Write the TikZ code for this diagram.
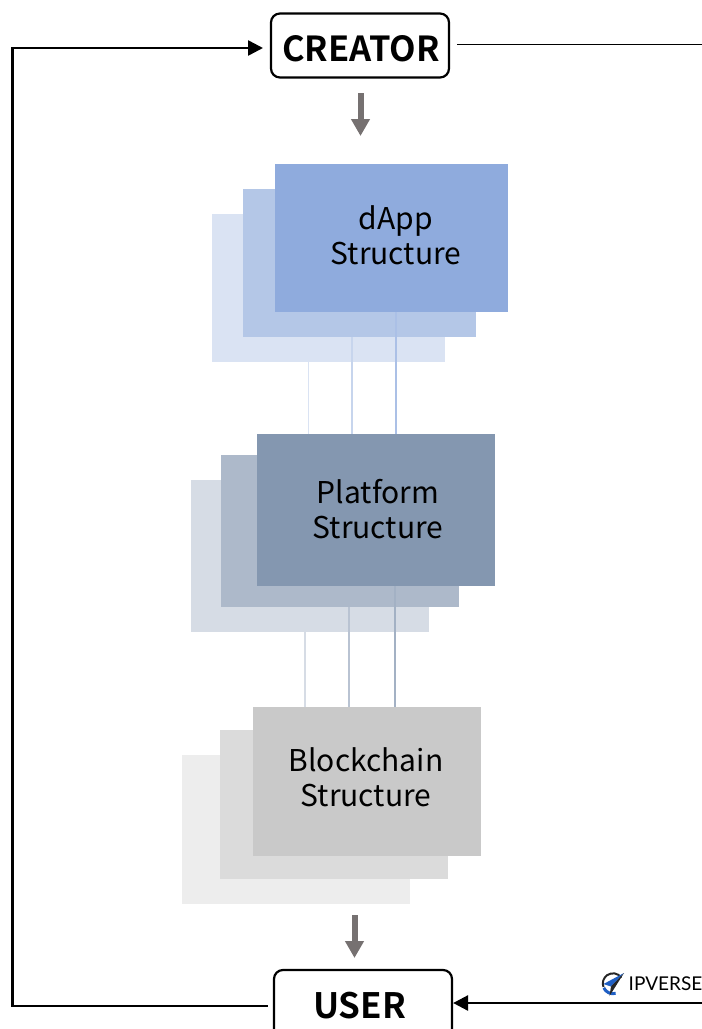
\documentclass[tikz,border=0pt]{standalone}
\usepackage{fontspec}
\setmainfont{Noto Sans CJK KR}[BoldFont={Noto Sans CJK KR Bold}]
\newfontfamily\logofont{Lato}
\usetikzlibrary{arrows.meta}

\definecolor{dappfront}{HTML}{8FABDD}
\definecolor{dappmid}{HTML}{B4C7E7}
\definecolor{dappback}{HTML}{DAE3F3}
\definecolor{platfront}{HTML}{8497B0}
\definecolor{platmid}{HTML}{ADB9CA}
\definecolor{platback}{HTML}{D6DCE5}
\definecolor{chainfront}{HTML}{C9C9C9}
\definecolor{chainmid}{HTML}{DBDBDB}
\definecolor{chainback}{HTML}{EDEDED}
\definecolor{flowgray}{HTML}{767171}
\definecolor{logoblue}{HTML}{1F5FC4}

\tikzset{
  rolebox/.style={draw, line width=2.2pt, rounded corners=9pt, minimum width=178pt, inner sep=0pt, font=\bfseries\fontsize{35}{35}\selectfont},
  layer/.style={anchor=north west, inner sep=0pt, outer sep=0pt},
  layerlabel/.style={align=center, font=\fontsize{30}{35}\selectfont},
  flow/.style={flowgray, line width=6pt, -{Triangle[length=17pt, width=18pt]}},
  feedback/.style={line width=2.6pt, -{Triangle[length=15pt, width=15pt]}},
  link/.style={line width=1.8pt}
}

\begin{document}
\begin{tikzpicture}[x=1pt, y=-1pt]

\useasboundingbox (0,0) rectangle (702,1029);
\clip (0,0) rectangle (702,1029);

% actors
\node [rolebox, minimum height=64pt, text height=31pt, text depth=0pt] (creator) at (360,45.5) {\hspace*{2pt}\fontsize{34.5}{35}\selectfont CREATOR};
\node [rolebox, minimum height=72pt] (user) at (363,1006) {\hspace*{-7pt}USER};

% positions of the links
\coordinate (dappA) at (308.5,400);
\coordinate (dappB) at (352,400);
\coordinate (dappC) at (396,400);
\coordinate (platA) at (305,650);
\coordinate (platB) at (349,650);
\coordinate (platC) at (395,650);

% dApp layers
\node [layer, fill=dappback, minimum width=233pt, minimum height=148pt] (dappthree) at (212,214) {};
\node [layer, fill=dappmid, minimum width=233pt, minimum height=148pt] (dapptwo) at (243,189) {};
\node [layer, fill=dappfront, minimum width=233pt, minimum height=148pt] (dappone) at (275,164) {};
\node [layerlabel] (dapplabel) at (396,235) {dApp\\Structure};

% platform layers
\node [layer, fill=platback, minimum width=238pt, minimum height=152pt] (platthree) at (191,480) {};
\node [layer, fill=platmid, minimum width=238pt, minimum height=152pt] (plattwo) at (221,455) {};
\node [layer, fill=platfront, minimum width=238pt, minimum height=152pt] (platone) at (257,434) {};
\node [layerlabel] (platlabel) at (378,509) {Platform\\Structure};

% blockchain layers
\node [layer, fill=chainback, minimum width=228pt, minimum height=149pt] (chainthree) at (182,755) {};
\node [layer, fill=chainmid, minimum width=228pt, minimum height=149pt] (chaintwo) at (220,730) {};
\node [layer, fill=chainfront, minimum width=228pt, minimum height=149pt] (chainone) at (253,707) {};
\node [layerlabel] (chainlabel) at (366,777.5) {Blockchain\\Structure};

% links between layers
\draw [link, draw=dappback] (dappA |- dappthree.south) -- (dappA |- platone.north) ;
\draw [link, draw=dappmid!75!white] (dappB |- dapptwo.south) -- (dappB |- platone.north) ;
\draw [link, draw=dappfront!75!white] (dappC |- dappone.south) -- (dappC |- platone.north) ;
\draw [link, draw=platback] (platA |- platthree.south) -- (platA |- chainone.north) ;
\draw [link, draw=platmid!85!white] (platB |- plattwo.south) -- (platB |- chainone.north) ;
\draw [link, draw=platfront!75!white] (platC |- platone.south) -- (platC |- chainone.north) ;

% flow arrows
\coordinate (flowtop) at (360.5,93);
\coordinate (flowtopend) at (360.5,136);
\coordinate (flowlow) at (354.5,915);
\coordinate (flowlowend) at (354.5,958);
\draw [flow] (flowtop) -- (flowtopend) ;
\draw [flow] (flowlow) -- (flowlowend) ;

% outer loop
\coordinate (corner) at (12.5,1006);
\coordinate (creatorin) at (263,48);
\coordinate (creatorout) at (702,44);
\coordinate (userin) at (702,1003);
\draw [line width=1.8pt, shorten <=5pt] (user.west) -- (corner) ;
\draw [feedback, line cap=rect] (corner) -- (corner |- creatorin) -- (creatorin) ;
\draw [line width=1pt, shorten <=7pt] (creator.east |- creatorout) -- (creatorout) ;
\draw [feedback, shorten >=0pt] (userin) -- (user.east |- userin) ;

% logo
\coordinate (logomark) at (613,983.5);
\draw [black!85, line width=2pt] (logomark) ++(-35:10.2) arc [start angle=-35, end angle=-200, radius=10.2] ;
\draw [logoblue, line width=3pt] (logomark) ++(155:10.2) arc [start angle=155, end angle=75, radius=10.2] ;
\fill [logoblue] (624,973) -- (603.5,984) -- (611,986.5) -- cycle ;
\fill [black!85] (624,973) -- (611,986.5) -- (609.5,996) -- cycle ;
\node [anchor=west, inner sep=0pt, font=\logofont\fontsize{19}{19}\selectfont] (logotext) at (628.5,984) {IPVERSE};

\end{tikzpicture}
\end{document}
